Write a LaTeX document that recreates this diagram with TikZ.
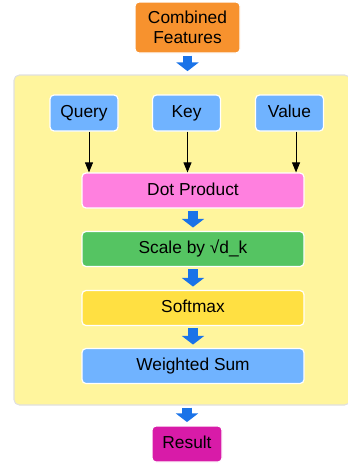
\documentclass[tikz,border=0pt]{standalone}
\usepackage{fontspec}
\setmainfont{Liberation Sans}
\usetikzlibrary{arrows.meta}
\definecolor{cforange}{HTML}{F7922E}
\definecolor{panelyellow}{HTML}{FFF59D}
\definecolor{qkvblue}{HTML}{70B3FF}
\definecolor{dotpink}{HTML}{FF80DF}
\definecolor{scalegreen}{HTML}{55C462}
\definecolor{softyellow}{HTML}{FFE042}
\definecolor{resmagenta}{HTML}{D81BA8}
\definecolor{flowblue}{HTML}{1A73E8}
\tikzset{
  box/.style={draw=white, line width=0.9pt, rounded corners=3pt, text=black,
    font=\fontsize{13}{15}\selectfont, align=center, inner sep=0pt},
  oneline/.style={box, text height=0.72em, text depth=0pt},
  qkv/.style={oneline, fill=qkvblue, minimum width=51pt, minimum height=27pt},
  stage/.style={oneline, minimum width=166.5pt, minimum height=26.25pt},
  flow/.style={flowblue, line width=7pt, shorten <=1.5pt, shorten >=2.5pt,
    -{Triangle[length=6.5pt, width=16.5pt]}},
  thin/.style={black, line width=0.6pt, -{Triangle[length=7.5pt, width=6pt]}}
}
\begin{document}
\begin{tikzpicture}[x=0.75pt, y=-0.75pt]
    \useasboundingbox (0,0) rectangle (348,464);
    \node[draw=black!12, fill=panelyellow, rounded corners=4pt, line width=0.8pt,
      minimum width=252pt, minimum height=247.5pt, inner sep=0pt] (panel) at (182,240) {};
    \node[box, fill=cforange, minimum width=78.75pt, minimum height=38.25pt] (feat) at (187.5,27.5) {Combined\\Features};
    \node[qkv] (query) at (84,113) {Query};
    \node[qkv] (key) at (186.5,113) {Key};
    \node[qkv] (value) at (289.5,113) {Value};
    \node[stage, fill=dotpink] (dot) at (193,190.5) {Dot Product};
    \node[stage, fill=scalegreen] (scale) at (193,249) {Scale by √d\_k};
    \node[stage, fill=softyellow] (softmax) at (193,308) {Softmax};
    \node[stage, fill=qkvblue] (wsum) at (193,366) {Weighted Sum};
    \node[oneline, fill=resmagenta, minimum width=52.5pt, minimum height=27pt] (result) at (187,444) {Result};
    \draw[thin] ([xshift=3.75pt]query.south) -- ([xshift=3.75pt]query.south |- dot.north);
    \draw[thin] ([xshift=0.75pt]key.south) -- ([xshift=0.75pt]key.south |- dot.north);
    \draw[thin] ([xshift=4.9pt]value.south) -- ([xshift=4.9pt]value.south |- dot.north);
    \draw[flow] (feat.south) -- (feat.south |- panel.north);
    \draw[flow] (dot.south) -- (scale.north);
    \draw[flow] (scale.south) -- (softmax.north);
    \draw[flow] (softmax.south) -- (wsum.north);
    \draw[flow] (result.north |- panel.south) -- (result.north);
\end{tikzpicture}
\end{document}
